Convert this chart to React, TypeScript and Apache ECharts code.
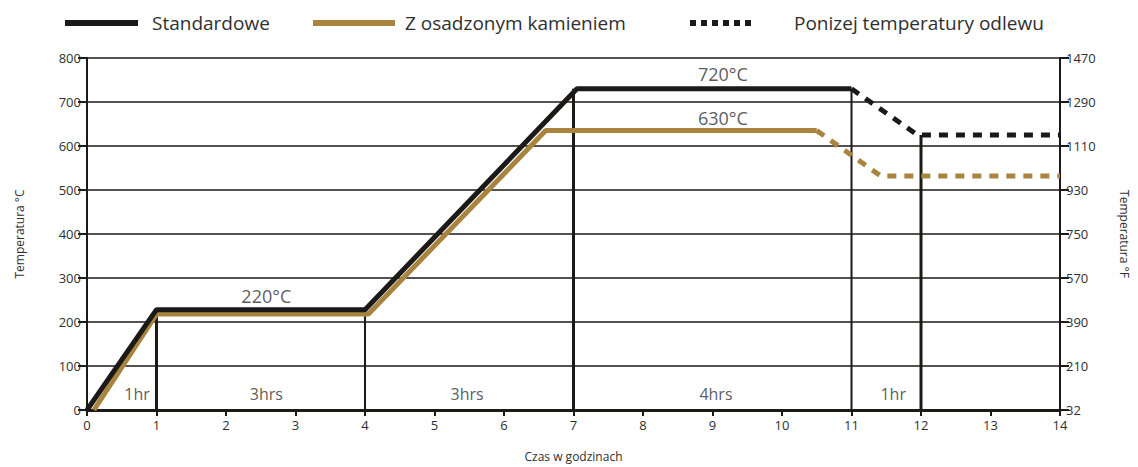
import React, { useEffect, useRef } from "react";
import * as echarts from "echarts";

const xTicks = [0, 1, 2, 3, 4, 5, 6, 7, 8, 9, 10, 11, 12, 13, 14];
const fahrenheitLabels = ["32", "210", "390", "570", "750", "930", "1110", "1290", "1470"];

const standardSolid: [number, number][] = [[0, 0], [1, 228], [4, 228], [7.05, 730], [11, 730]];
const standardDashed: [number, number][] = [[11, 730], [11.95, 625], [14, 625]];
const stoneSolid: [number, number][] = [[0.1, 0], [1, 218], [4.05, 218], [6.6, 635], [10.5, 635]];
const stoneDashed: [number, number][] = [[10.5, 635], [11.42, 532], [14, 532]];

// vertical stage markers: [x, top value, width]
const stageMarkers: [number, number, number][] = [
  [1, 228, 3],
  [4, 228, 2],
  [7, 730, 3],
  [11, 730, 2],
  [12, 625, 3],
];

const durationLabels: [number, number, string][] = [
  [0.72, 36, "1hr"],
  [2.58, 36, "3hrs"],
  [5.47, 36, "3hrs"],
  [9.05, 36, "4hrs"],
  [11.6, 36, "1hr"],
];
const tempLabels: [number, number, string][] = [
  [2.58, 258, "220°C"],
  [9.15, 763, "720°C"],
  [9.15, 663, "630°C"],
];

const legendItems = ["Standardowe", "Z osadzonym kamieniem", "Ponizej temperatury odlewu"];

const BLACK = "#1c1a18";
const GOLD = "#a9843f";
const TEXT = "#2f2f2f";
const FONT = "'Open Sans', 'Noto Sans', sans-serif";

export default function App() {
  const ref = useRef<HTMLDivElement>(null);
  useEffect(() => {
    document.body.style.margin = "0";
    const chart = echarts.init(ref.current!, null, { renderer: "svg" });
    const markerSeries = stageMarkers.map(([x, top, w]) => ({
      type: "line",
      data: [[x, 0], [x, top]],
      symbol: "none",
      lineStyle: { color: BLACK, width: w },
      z: 1,
    }));
    const textSeries = (arr: [number, number, string][], size: number) => ({
      type: "scatter",
      symbolSize: 0,
      data: arr.map(([x, y, t]) => ({ value: [x, y], name: t })),
      label: {
        show: true,
        position: "inside",
        formatter: (p: any) => p.name,
        color: TEXT,
        fontSize: size,
        fontFamily: FONT,
      },
      z: 5,
    });
    const lx = [65, 313, 690];
    const tx = [152, 405, 794];
    const graphic: any[] = [];
    legendItems.forEach((t, i) => {
      const x2 = i === 1 ? 395 : i === 0 ? 138 : 752;
      graphic.push({
        type: "line",
        shape: { x1: lx[i], y1: 23, x2, y2: 23 },
        style: {
          stroke: i === 1 ? GOLD : BLACK,
          lineWidth: 6,
          lineDash: i === 2 ? [6, 5] : null,
        },
      });
      graphic.push({
        type: "text",
        x: tx[i],
        y: 23,
        style: { text: t, fill: TEXT, font: `19px ${FONT}`, textVerticalAlign: "middle" },
      });
    });
    chart.setOption({
      animation: false,
      backgroundColor: "#ffffff",
      grid: { left: 87, right: 75, top: 58, bottom: 57 },
      graphic,
      xAxis: {
        type: "value",
        min: 0,
        max: 14,
        interval: 1,
        name: "Czas w godzinach",
        nameLocation: "middle",
        nameGap: 40,
        nameTextStyle: { color: TEXT, fontSize: 12, fontFamily: FONT },
        axisLine: { show: true, lineStyle: { color: BLACK, width: 3 } },
        axisTick: { show: true, length: 6, lineStyle: { color: BLACK, width: 2 } },
        axisLabel: { color: TEXT, fontSize: 13, fontFamily: FONT, margin: 8 },
        splitLine: { show: false },
        data: xTicks,
      },
      yAxis: [
        {
          type: "value",
          min: 0,
          max: 800,
          interval: 100,
          name: "Temperatura °C",
          nameLocation: "middle",
          nameGap: 62,
          nameTextStyle: { color: TEXT, fontSize: 12, fontFamily: FONT },
          axisLine: { show: true, lineStyle: { color: BLACK, width: 2 } },
          axisTick: { show: true, length: 9, lineStyle: { color: BLACK, width: 2 } },
          axisLabel: { color: TEXT, fontSize: 13, fontFamily: FONT, margin: 6 },
          splitLine: { show: true, lineStyle: { color: BLACK, width: 1.5 } },
        },
        {
          type: "value",
          min: 0,
          max: 800,
          interval: 100,
          position: "right",
          name: "Temperatura °F",
          nameLocation: "middle",
          nameGap: 58,
          nameRotate: -90,
          nameTextStyle: { color: TEXT, fontSize: 12, fontFamily: FONT },
          axisLine: { show: true, lineStyle: { color: BLACK, width: 2 } },
          axisTick: { show: true, length: 9, lineStyle: { color: BLACK, width: 2 } },
          axisLabel: {
            color: TEXT,
            fontSize: 13,
            fontFamily: FONT,
            margin: 6,
            formatter: (v: number) => fahrenheitLabels[Math.round(v / 100)],
          },
          splitLine: { show: false },
        },
      ],
      series: [
        ...markerSeries,
        {
          type: "line",
          data: stoneSolid,
          symbol: "none",
          lineStyle: { color: GOLD, width: 5 },
          z: 3,
        },
        {
          type: "line",
          data: stoneDashed,
          symbol: "none",
          lineStyle: { color: GOLD, width: 5, type: [9, 8] },
          z: 3,
        },
        {
          type: "line",
          data: standardSolid,
          symbol: "none",
          lineStyle: { color: BLACK, width: 5 },
          z: 4,
        },
        {
          type: "line",
          data: standardDashed,
          symbol: "none",
          lineStyle: { color: BLACK, width: 5, type: [9, 8] },
          z: 4,
        },
        textSeries(durationLabels, 16),
        textSeries(tempLabels, 18),
      ],
    });
    return () => chart.dispose();
  }, []);
  return <div ref={ref} style={{ width: 1138, height: 467, position: "fixed", left: 0, top: 0 }} />;
}
